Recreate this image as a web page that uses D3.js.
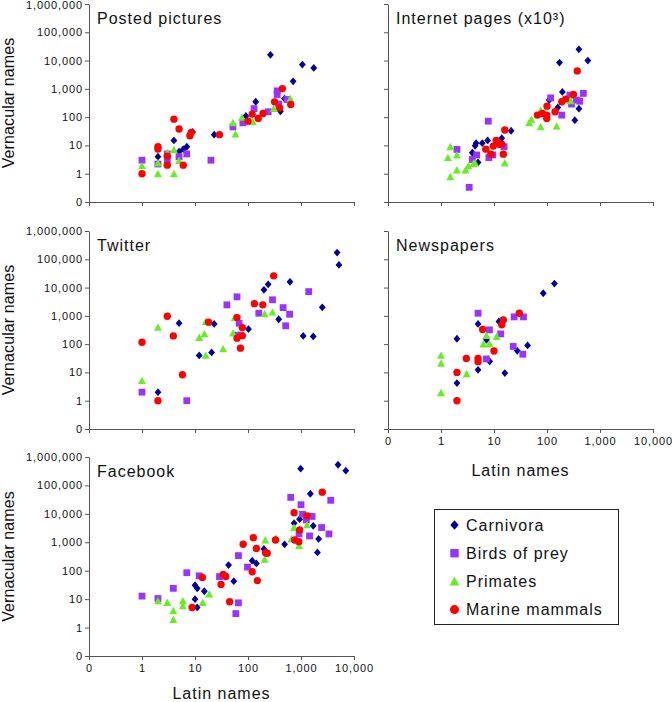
<!DOCTYPE html>
<html><head><meta charset="utf-8">
<script src="https://cdn.jsdelivr.net/npm/d3@7/dist/d3.min.js"></script>
<style>
body{margin:0;background:#fff;}
text{font-family:"Liberation Sans",Arial,sans-serif;fill:#111;}
</style></head>
<body>
<svg id="chart" width="672" height="702"></svg>
<script>
// ---- data: [Latin names, Vernacular names] ----
const seriesNames = ["Carnivora","Birds of prey","Primates","Marine mammals"];
const panelTitles = ["Posted pictures","Internet pages (x10³)","Twitter","Newspapers","Facebook"];
const xTickValues = [0.1,1,10,100,1000,10000];
const yTickValues = [0.1,1,10,100,1000,10000,100000,1000000];

const picturesCarnivora = [[2,4],[4,15],[5,6],[6,7.4],[7,9],[9,30],[23,24],[91,110],[140,350],[265,16000],[410,160],[490,450],[710,1850],[1060,7200],[1740,5500]];
const picturesBirds = [[1,3],[2,2.2],[3,5],[3,3],[5,4],[7,5],[20,3],[52,45],[80,63],[130,200],[240,155],[355,630],[355,850],[380,290],[545,420]];
const picturesPrimates = [[1,1.9],[2,2.4],[2,1],[3,5.5],[4,7],[4,1],[5,2.9],[52,63],[58,25],[77,98],[124,69],[305,200],[630,455]];
const picturesMarine = [[1,1],[2,9],[2,7.5],[3,4.2],[3,2],[4,85],[5,38],[6,2],[8,22],[8.5,29],[29,24],[100,72],[120,128],[156,90],[192,135],[317,348],[395,213],[445,1020],[640,280]];

const internetCarnivora = [[3.9,5.5],[4.4,9.7],[4.6,12],[5,2.5],[6,12],[7.6,15],[14,18],[21,33],[110,400],[160,220],[172,8500],[195,780],[335,78],[400,25000],[400,200],[590,10000]];
const internetBirds = [[2,7.2],[3.4,0.33],[3.9,3.2],[4.7,4.6],[7.8,72],[8,3.7],[9.5,4.6],[15.5,9],[117,480],[190,118],[270,600],[290,290],[360,400],[415,365],[485,690]];
const internetPrimates = [[1.35,3.7],[1.5,0.78],[1.5,9],[2,1.35],[2,4.6],[2.9,1.35],[3.3,1.9],[4.1,2.3],[4.4,2.4],[16,2.4],[46,63],[51,83],[76,45],[76,177],[152,48],[280,380]];
const internetMarine = [[7,7.4],[8.7,4.9],[9.7,9.5],[11,15],[12.4,11],[14,11],[15,4.9],[16,35],[66,118],[82,135],[99,118],[99,90],[100,245],[142,155],[190,350],[225,435],[315,630],[372,4300]];

const twitterCarnivora = [[2,2],[5,550],[12,40],[20.6,51],[23,520],[102,340],[200,8300],[240,13000],[380,760],[620,16000],[1100,196],[1700,187],[2520,2000],[4800,172000],[5200,63000]];
const twitterBirds = [[1,2],[7,1],[40,2450],[62,4700],[68,550],[63,208],[160,1240],[290,3700],[460,1960],[515,445],[610,1140],[1400,7200]];
const twitterPrimates = [[1,5.1],[2,390],[12,172],[15,230],[16,40],[16,630],[34,68],[52,245],[56,870],[206,1170],[290,1350]];
const twitterMarine = [[1,117],[2,1],[3,970],[3.9,196],[5.8,8.3],[18,600],[62,870],[62,163],[72,72],[78,385],[78,200],[132,2700],[190,2450],[305,26000]];

const newsCarnivora = [[2,155],[2,4.2],[5,520],[5,12.4],[7.2,142],[8.3,24.5],[12.4,630],[16,9.5],[27.5,58],[43,90],[85,6300],[138,13800]];
const newsBirds = [[5,1240],[7.2,30],[8.2,320],[13.4,230],[23,83],[24,920],[35,44],[36,920]];
const newsPrimates = [[1,40],[1,21],[1,1.9],[3.05,9],[6.3,100],[7.2,200],[8.2,103],[11.2,186]];
const newsMarine = [[2,10],[2,1],[3,31],[5,31],[5,24],[6.1,330],[10,57],[14,480],[15,720],[30,1240]];

const facebookCarnivora = [[10,31],[10,10],[11,24],[11,5.1],[15,19],[43,158],[54,43],[120,225],[144,180],[200,580],[490,850],[740,4700],[985,390000],[940,6500],[1500,51000],[1700,3800],[2040,440],[2150,1310],[5000,535000],[7000,330000]];
const facebookBirds = [[1,12.8],[2,10.5],[3.9,24],[7,85],[12,66],[29,62],[59,3.1],[66,7.4],[66,340],[98,134],[640,38000],[920,1970],[1000,21000],[1070,9700],[1260,6100],[1620,8100],[1450,1670],[2450,3300],[3370,1970],[3640,30000]];
const facebookPrimates = [[2,8.7],[3,7.6],[3.9,3.9],[3.9,1.9],[5.9,8.7],[5.9,5.8],[14,7.6],[18.6,15],[206,250],[212,1200],[340,1390],[660,1300],[740,3300],[920,770],[1300,4100]];
const facebookMarine = [[8.8,5.1],[13.8,58],[31,33],[34,74],[38,63],[45,8.1],[81,850],[120,92],[126,1450],[144,610],[150,45],[215,430],[230,410],[330,1200],[740,11000],[760,1200],[910,1050],[940,2700],[1300,8500],[2520,58000]];

// ---- layout ----
const colors = ["#000099","#9933FF","#66EE22","#FF0000"];
const panels = [
  {title:panelTitles[0], data:[picturesCarnivora,picturesBirds,picturesPrimates,picturesMarine], x0:89, x1:354, y0:4, y1:202, yLab:true, xLab:false},
  {title:panelTitles[1], data:[internetCarnivora,internetBirds,internetPrimates,internetMarine], x0:388, x1:653, y0:4, y1:202, yLab:false, xLab:false},
  {title:panelTitles[2], data:[twitterCarnivora,twitterBirds,twitterPrimates,twitterMarine], x0:89, x1:354, y0:231, y1:429, yLab:true, xLab:false},
  {title:panelTitles[3], data:[newsCarnivora,newsBirds,newsPrimates,newsMarine], x0:388, x1:653, y0:231, y1:429, yLab:false, xLab:true},
  {title:panelTitles[4], data:[facebookCarnivora,facebookBirds,facebookPrimates,facebookMarine], x0:89, x1:354, y0:457, y1:656, yLab:true, xLab:true}
];

const svg = d3.select("#chart");
svg.append("rect").attr("width",672).attr("height",702).attr("fill","#fff");
const fmt = v => v < 1 ? "0" : d3.format(",")(v);

function marker(g, type, size){
  const s = size;
  if(type===0) return g.append("path").attr("d",`M0,${-s*1.15}L${s},0L0,${s*1.15}L${-s},0Z`);
  if(type===1) return g.append("rect").attr("x",-s).attr("y",-s).attr("width",2*s).attr("height",2*s);
  if(type===2) return g.append("path").attr("d",`M0,${-s*1.1}L${s*1.1},${s*0.95}L${-s*1.1},${s*0.95}Z`);
  return g.append("circle").attr("r",s*1.05);
}
const mSize = [3.4,3.4,3.6,3.5];

panels.forEach((p,pi)=>{
  const x = d3.scaleLog().domain([0.1,10000]).range([p.x0,p.x1]);
  const y = d3.scaleLog().domain([0.1,1000000]).range([p.y1,p.y0]);
  const g = svg.append("g");
  const ax = d3.axisBottom(x).tickValues(xTickValues).tickSize(4).tickSizeOuter(0)
      .tickFormat(p.xLab ? fmt : "");
  const gx = g.append("g").attr("transform",`translate(0,${p.y1})`).call(ax);
  const ay = d3.axisLeft(y).tickValues(yTickValues).tickSize(4).tickSizeOuter(0)
      .tickFormat(p.yLab ? fmt : "");
  const gy = g.append("g").attr("transform",`translate(${p.x0},0)`).call(ay);
  [gx,gy].forEach(a=>{
    a.select(".domain").attr("stroke","#555");
    a.selectAll(".tick line").attr("stroke","#555");
    a.selectAll(".tick text").attr("fill","#111").style("font-family","'Liberation Sans',Arial,sans-serif")
      .style("font-size","11px").style("letter-spacing","0.9px");
  });
  gy.selectAll(".tick text").attr("x",-6);
  gx.selectAll(".tick text").attr("y",8);
  if(pi===0){
    gy.selectAll(".tick text").filter(d=>d===1000000).attr("dy","0.45em");
  }
  g.append("text").attr("x",p.x0+8).attr("y",p.y0+19.5)
    .style("font-size","16px").style("letter-spacing","1px").text(p.title);
  p.data.forEach((arr,si)=>{
    const sg = g.append("g");
    arr.forEach(d=>{
      const mg = sg.append("g").attr("transform",`translate(${x(d[0])},${y(d[1])})`);
      marker(mg, si, mSize[si]).attr("fill",colors[si]);
    });
  });
  if(p.yLab){
    g.append("text").attr("transform",`translate(14,${(p.y0+p.y1)/2}) rotate(-90)`)
      .attr("text-anchor","middle").style("font-size","16px").style("letter-spacing","0.1px").text("Vernacular names");
  }
  if(p.xLab){
    g.append("text").attr("x",(p.x0+p.x1)/2).attr("y",Math.min(p.y1+47,699))
      .attr("text-anchor","middle").style("font-size","16px").style("letter-spacing","1px").text("Latin names");
  }
});

// legend
const lg = svg.append("g");
lg.append("rect").attr("x",434.5).attr("y",509.5).attr("width",184).attr("height",115)
  .attr("fill","#fff").attr("stroke","#222").attr("stroke-width",1);
seriesNames.forEach((n,i)=>{
  const yy = 525 + i*28.2;
  const mg = lg.append("g").attr("transform",`translate(454.5,${yy})`);
  marker(mg,i,mSize[i]+0.8).attr("fill",colors[i]);
  lg.append("text").attr("x",466).attr("y",yy+5.5).style("font-size","16px").style("letter-spacing","1px").text(n);
});
</script>
</body></html>
